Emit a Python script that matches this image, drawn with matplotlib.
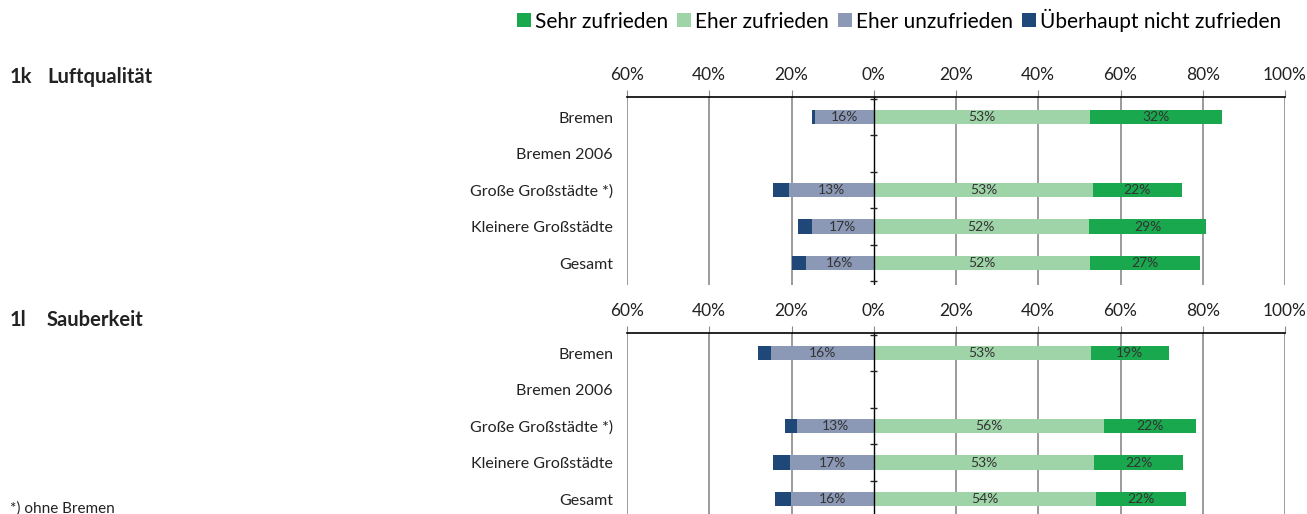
import numpy as np
import matplotlib
matplotlib.use("Agg")
import matplotlib.pyplot as plt
from matplotlib.patches import Patch

plt.rcParams['font.family'] = ['Lato', 'DejaVu Sans']

categories = ["Bremen", "Bremen 2006", "Große Großstädte *)", "Kleinere Großstädte", "Gesamt"]
series_names = ["Sehr zufrieden", "Eher zufrieden", "Eher unzufrieden", "Überhaupt nicht zufrieden"]
colors = ["#1aa84f", "#9fd4a8", "#8c99b6", "#1f4778"]

# Panel 1k Luftqualität (bar lengths in %; NaN = no data)
luft_sehr = [32.2, np.nan, 21.6, 28.5, 26.7]
luft_eher = [52.6, np.nan, 53.3, 52.3, 52.6]
luft_unzuf = [14.2, np.nan, 20.7, 15.0, 16.5]
luft_nicht = [0.7, np.nan, 3.7, 3.3, 3.3]
luft_lbl_sehr = ["32%", "", "22%", "29%", "27%"]
luft_lbl_eher = ["53%", "", "53%", "52%", "52%"]
luft_lbl_unzuf = ["16%", "", "13%", "17%", "16%"]

# Panel 1l Sauberkeit
saub_sehr = [18.9, np.nan, 22.2, 21.8, 22.0]
saub_eher = [52.8, np.nan, 56.1, 53.5, 54.0]
saub_unzuf = [25.0, np.nan, 18.7, 20.3, 20.1]
saub_nicht = [3.1, np.nan, 2.8, 4.1, 3.8]
saub_lbl_sehr = ["19%", "", "22%", "22%", "22%"]
saub_lbl_eher = ["53%", "", "56%", "53%", "54%"]
saub_lbl_unzuf = ["16%", "", "13%", "17%", "16%"]

xticks = [-60, -40, -20, 0, 20, 40, 60, 80, 100]
xticklabels = ["60%", "40%", "20%", "0%", "20%", "40%", "60%", "80%", "100%"]

W, H = 1307, 514
fig = plt.figure(figsize=(W / 100, H / 100), dpi=100)


def fx(px):
    return px / W


def fy(py):
    return 1 - py / H


def draw_panel(ax, sehr, eher, unzuf, nicht, l_sehr, l_eher, l_unzuf):
    y = np.arange(len(categories))
    sehr = np.array(sehr); eher = np.array(eher)
    unzuf = np.array(unzuf); nicht = np.array(nicht)
    h = 0.39
    ax.barh(y, eher, left=0, height=h, color=colors[1], zorder=3)
    ax.barh(y, sehr, left=eher, height=h, color=colors[0], zorder=3)
    ax.barh(y, -unzuf, left=0, height=h, color=colors[2], zorder=3)
    ax.barh(y, -nicht, left=-unzuf, height=h, color=colors[3], zorder=3)
    for i in range(len(categories)):
        if np.isnan(eher[i]):
            continue
        kw = dict(ha='center', va='center', fontsize=10, color='#333333', zorder=4)
        ax.text(eher[i] / 2, y[i], l_eher[i], **kw)
        ax.text(eher[i] + sehr[i] / 2, y[i], l_sehr[i], **kw)
        ax.text(-unzuf[i] / 2, y[i], l_unzuf[i], **kw)
    ax.set_xlim(-60, 100)
    ax.set_ylim(len(categories) - 0.4, -0.55)
    ax.set_xticks(xticks)
    ax.set_xticklabels(xticklabels)
    ax.xaxis.tick_top()
    ax.tick_params(axis='x', length=5, color='#888888', pad=5, labelsize=12.5, labelcolor='#222222')
    ax.set_yticks(y)
    ax.set_yticklabels(categories)
    ax.tick_params(axis='y', length=0, pad=10, labelsize=11.5, labelcolor='#222222')
    for s in ['left', 'right', 'bottom']:
        ax.spines[s].set_visible(False)
    ax.spines['top'].set_color('black')
    ax.spines['top'].set_linewidth(1.2)
    for xv in xticks:
        if xv == 0:
            ax.axvline(0, color='black', lw=1.0, zorder=5)
        else:
            ax.axvline(xv, color='#8a8a8a', lw=1.2, zorder=1)
    ax.hlines(np.arange(len(categories) + 1) - 0.5, -0.8, 0.8, color='#222222', lw=1.0, zorder=5)
    ax.set_facecolor('none')


ax1 = fig.add_axes([fx(627), fy(285), fx(1285) - fx(627), fy(97) - fy(285)])
draw_panel(ax1, luft_sehr, luft_eher, luft_unzuf, luft_nicht, luft_lbl_sehr, luft_lbl_eher, luft_lbl_unzuf)
ax2 = fig.add_axes([fx(627), fy(521), fx(1285) - fx(627), fy(333) - fy(521)])
draw_panel(ax2, saub_sehr, saub_eher, saub_unzuf, saub_nicht, saub_lbl_sehr, saub_lbl_eher, saub_lbl_unzuf)

# Section titles
tkw = dict(fontsize=14.5, fontweight='bold', va='center', ha='left', color='#222222')
fig.text(fx(10), fy(77), "1k", **tkw)
fig.text(fx(47), fy(77), "Luftqualität", **tkw)
fig.text(fx(10), fy(320), "1l", **tkw)
fig.text(fx(47), fy(320), "Sauberkeit", **tkw)
fig.text(fx(10), fy(509), "*) ohne Bremen", fontsize=11, va='center', ha='left', color='#222222')

handles = [Patch(facecolor=c, edgecolor='none') for c in colors]
fig.legend(handles, series_names, loc='center right', bbox_to_anchor=(fx(1281), fy(20)),
           ncol=4, frameon=False, fontsize=15, handlelength=0.65, handleheight=0.65,
           handletextpad=0.2, columnspacing=0.45, borderaxespad=0, borderpad=0)

fig.savefig("out.png", dpi=100)
